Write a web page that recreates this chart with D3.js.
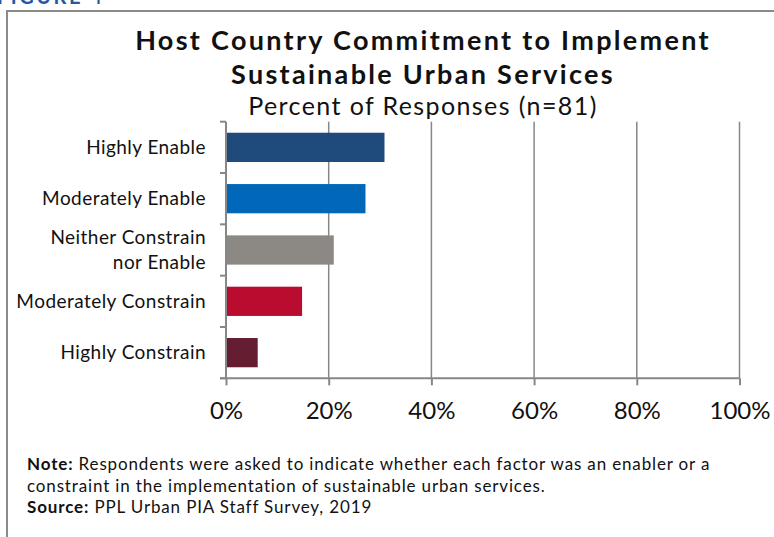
<!DOCTYPE html>
<html>
<head>
<meta charset="utf-8">
<script src="https://cdn.jsdelivr.net/npm/d3@7"></script>
<style>
  html, body { margin: 0; padding: 0; background: #fff; }
  svg { display: block; font-family: "Lato", "Open Sans", sans-serif; }
</style>
</head>
<body>
<svg id="chart" width="774" height="537"></svg>
<script>
// Survey responses (n = 81), share of respondents per rating
const categories = [
  "Highly Enable",
  "Moderately Enable",
  "Neither Constrain nor Enable",
  "Moderately Constrain",
  "Highly Constrain"
];
const responseCounts = [25, 22, 17, 12, 5];
const totalResponses = 81;
const barColors = ["#1f4a7c", "#0067b9", "#8c8985", "#ba0c2f", "#651d32"];
const xTickValues = [0, 20, 40, 60, 80, 100];

const titleLines = ["Host Country Commitment to Implement", "Sustainable Urban Services"];
const subtitle = "Percent of Responses (n=81)";

const percents = responseCounts.map(c => c / totalResponses * 100);

const svg = d3.select("#chart");
const axisGrey = "#878787";

// Figure frame and the caption above it (runs past the top edge)
svg.append("text")
  .attr("x", -3).attr("y", 4)
  .attr("fill", "#1f5aa6")
  .attr("font-size", 20).attr("font-weight", 700)
  .attr("letter-spacing", 2.5)
  .text("FIGURE 4");
svg.append("path")
  .attr("d", "M7,537 V11 H774")
  .attr("fill", "none")
  .attr("stroke", "#8a8a8a")
  .attr("stroke-width", 2);

// Title block
svg.selectAll("text.title")
  .data(titleLines)
  .join("text")
  .attr("class", "title")
  .attr("x", 423)
  .attr("y", (d, i) => 50 + i * 33.5)
  .attr("text-anchor", "middle")
  .attr("font-size", 27)
  .attr("font-weight", 700)
  .attr("letter-spacing", 2.3)
  .attr("fill", "#111")
  .text(d => d);
svg.append("text")
  .attr("x", 423).attr("y", 114.5)
  .attr("text-anchor", "middle")
  .attr("font-size", 25)
  .attr("letter-spacing", 1.4)
  .attr("fill", "#111")
  .text(subtitle);

// Scales
const x = d3.scaleLinear().domain([0, 100]).range([226, 739.5]);
const y = d3.scaleBand().domain(categories).range([121.7, 378.3])
  .paddingInner(0.43).paddingOuter(0.215);

// Vertical gridlines
svg.append("g")
  .selectAll("line")
  .data(xTickValues.filter(v => v > 0))
  .join("line")
  .attr("x1", d => x(d)).attr("x2", d => x(d))
  .attr("y1", y.range()[0]).attr("y2", y.range()[1])
  .attr("stroke", axisGrey)
  .attr("stroke-width", 1.5);

// Bars
svg.append("g")
  .selectAll("rect")
  .data(categories)
  .join("rect")
  .attr("x", x(0))
  .attr("y", d => y(d))
  .attr("width", (d, i) => x(percents[i]) - x(0))
  .attr("height", y.bandwidth())
  .attr("fill", (d, i) => barColors[i]);

// X axis
const xAxis = svg.append("g")
  .attr("transform", `translate(0,${y.range()[1]})`)
  .call(d3.axisBottom(x).tickValues(xTickValues).tickSize(7).tickPadding(17)
    .tickFormat(d => d + "%"));
xAxis.select(".domain").remove();
xAxis.selectAll(".tick line").attr("stroke", axisGrey).attr("stroke-width", 2);
xAxis.selectAll(".tick text")
  .attr("font-family", "Lato, sans-serif")
  .attr("font-size", 24)
  .attr("fill", "#111");
xAxis.append("line")
  .attr("x1", x(0) - 6).attr("x2", x(100))
  .attr("stroke", axisGrey).attr("stroke-width", 2);

// Y axis line with ticks on category boundaries
const step = y.step();
const boundaries = categories.map(c => y(c) - step * y.paddingInner() / 2)
  .concat([y(categories[categories.length - 1]) + y.bandwidth() + step * y.paddingInner() / 2]);
const yAxis = svg.append("g");
yAxis.append("line")
  .attr("x1", x(0)).attr("x2", x(0))
  .attr("y1", y.range()[0]).attr("y2", y.range()[1])
  .attr("stroke", axisGrey).attr("stroke-width", 2);
yAxis.selectAll("line.tick")
  .data(boundaries)
  .join("line")
  .attr("class", "tick")
  .attr("x1", x(0) - 6).attr("x2", x(0))
  .attr("y1", d => d).attr("y2", d => d)
  .attr("stroke", axisGrey).attr("stroke-width", 2);

// Category labels, wrapping long names onto two lines
function wrapLabel(s) {
  if (s.length <= 22) return [s];
  const words = s.split(" ");
  const half = Math.ceil(words.length / 2);
  return [words.slice(0, half).join(" "), words.slice(half).join(" ")];
}
const labels = svg.append("g")
  .selectAll("text")
  .data(categories)
  .join("text")
  .attr("text-anchor", "end")
  .attr("font-size", 19)
  .attr("letter-spacing", 0.45)
  .attr("fill", "#111");
labels.each(function(d) {
  const lines = wrapLabel(d);
  const cy = y(d) + y.bandwidth() / 2;
  const lh = 25;
  d3.select(this).selectAll("tspan")
    .data(lines)
    .join("tspan")
    .attr("x", 206)
    .attr("y", (l, i) => cy + 6.5 + (i - (lines.length - 1) / 2) * lh)
    .text(l => l);
});

// Footnote
const notes = [
  [["Note:", true], [" Respondents were asked to indicate whether each factor was an enabler or a", false]],
  [["constraint in the implementation of sustainable urban services.", false]],
  [["Source:", true], [" PPL Urban PIA Staff Survey, 2019", false]]
];
svg.append("g")
  .selectAll("text")
  .data(notes)
  .join("text")
  .attr("x", 27)
  .attr("y", (d, i) => 470 + i * 21.5)
  .attr("font-size", 17)
  .attr("letter-spacing", 0.85)
  .attr("fill", "#111")
  .selectAll("tspan")
  .data(d => d)
  .join("tspan")
  .attr("font-weight", d => d[1] ? 700 : 400)
  .text(d => d[0]);
</script>
</body>
</html>
